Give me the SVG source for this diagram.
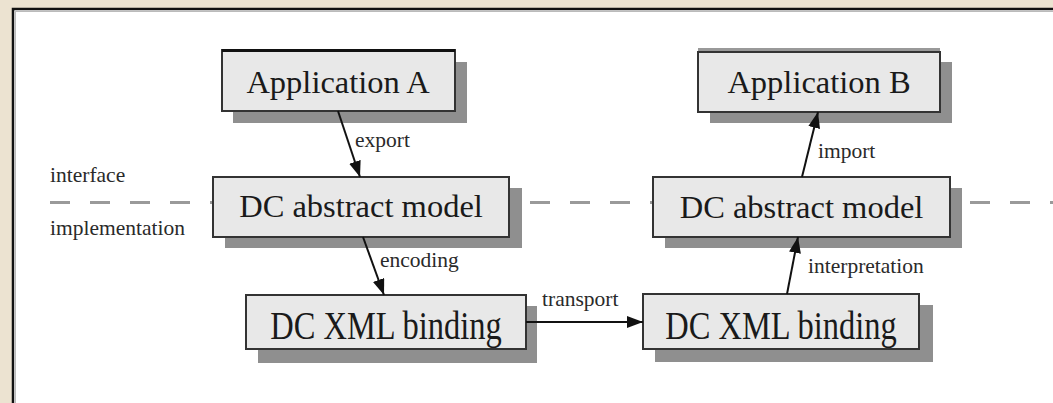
<svg xmlns="http://www.w3.org/2000/svg" width="1053" height="403" viewBox="0 0 1053 403">
<defs>
<style>
.box{fill:#e8e8e8;stroke:#333;stroke-width:2}
.shadow{fill:#8f8f8f}
.t{font-family:"Liberation Serif","Times New Roman",serif;font-size:32.5px;fill:#1a1a1a;text-anchor:middle}
.lbl{font-family:"Liberation Serif","Times New Roman",serif;font-size:21.5px;fill:#2a2a2a}
.conn{stroke:#111;stroke-width:2;fill:none;marker-end:url(#ah)}
</style>
<marker id="ah" viewBox="0 0 16 12" refX="16" refY="6" markerWidth="16" markerHeight="12" markerUnits="userSpaceOnUse" orient="auto">
<path d="M0,0 L16,6 L0,12 Z" fill="#111"/>
</marker>
</defs>
<rect x="0" y="0" width="1053" height="403" fill="#ece3d1"/>
<rect x="13" y="9" width="1050" height="410" fill="#ffffff" stroke="#111" stroke-width="2.5"/>
<line x1="15" y1="11.5" x2="1053" y2="11.5" stroke="#bbb" stroke-width="1"/>
<line x1="15.5" y1="11" x2="15.5" y2="403" stroke="#bbb" stroke-width="1"/>
<line x1="50" y1="202.5" x2="1053" y2="202.5" stroke="#9a9a9a" stroke-width="3" stroke-dasharray="20 20"/>
<text class="lbl" x="50" y="182">interface</text>
<text class="lbl" x="50" y="235">implementation</text>
<g id="appA">
<rect class="shadow" x="233" y="62" width="234" height="61"/>
<rect class="box" x="222" y="50" width="233" height="61"/>
<line x1="222" y1="50.5" x2="455" y2="50.5" stroke="#111" stroke-width="3"/>
<text class="t" x="338" y="93">Application A</text>
</g>
<g id="appB">
<rect class="shadow" x="710" y="62" width="242" height="61"/>
<rect x="698" y="48" width="242" height="5" fill="#999"/>
<rect class="box" x="698" y="52" width="242" height="60"/>
<text class="t" x="819" y="93">Application B</text>
</g>
<g id="absA">
<rect class="shadow" x="225" y="188" width="297" height="60"/>
<rect class="box" x="213" y="177" width="296" height="60"/>
<text class="t" x="361" y="217">DC abstract model</text>
</g>
<g id="absB">
<rect class="shadow" x="665" y="188" width="297" height="60"/>
<rect class="box" x="653" y="177" width="297" height="60"/>
<text class="t" x="801.5" y="218">DC abstract model</text>
</g>
<g id="xmlA">
<rect class="shadow" x="258" y="306" width="279" height="57"/>
<rect class="box" x="246" y="295" width="280" height="54"/>
<text class="t" transform="translate(386 339) scale(1 1.2)" x="0" y="0">DC XML binding</text>
</g>
<g id="xmlB">
<rect class="shadow" x="655" y="305" width="278" height="57"/>
<rect class="box" x="643" y="294" width="276" height="55"/>
<text class="t" transform="translate(781 339) scale(1 1.2)" x="0" y="0">DC XML binding</text>
</g>
<g id="connectors">
<line class="conn" x1="338" y1="111" x2="360" y2="177"/>
<line class="conn" x1="363" y1="237" x2="384" y2="295"/>
<line class="conn" x1="526" y1="322" x2="643" y2="322"/>
<line class="conn" x1="787" y1="294" x2="798" y2="237"/>
<line class="conn" x1="802" y1="177" x2="818" y2="112"/>
<text class="lbl" x="355" y="147">export</text>
<text class="lbl" x="380" y="267">encoding</text>
<text class="lbl" x="542" y="306">transport</text>
<text class="lbl" x="808" y="273">interpretation</text>
<text class="lbl" x="818" y="158">import</text>
</g>
</svg>
